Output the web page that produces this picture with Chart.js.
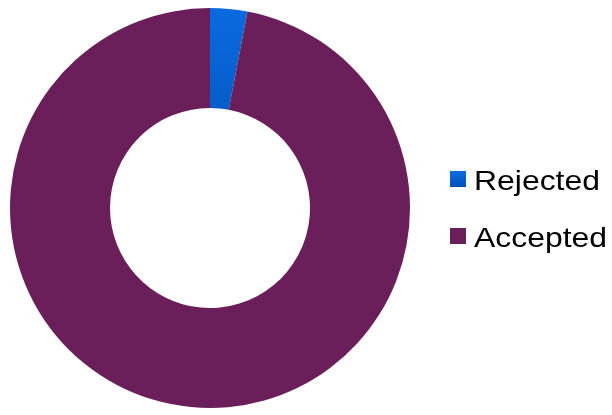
<!DOCTYPE html>
<html>
<head>
<meta charset="utf-8">
<script src="https://cdn.jsdelivr.net/npm/chart.js@4/dist/chart.umd.min.js"></script>
<style>
  html, body { margin: 0; padding: 0; background: #ffffff; }
  #wrap { width: 612px; height: 415px; }
</style>
</head>
<body>
<div id="wrap"><canvas id="chart"></canvas></div>
<script>
// Data
const labels = ['Rejected', 'Accepted'];
const values = [3, 97];
const colors = ['#0a5fd0', '#6a1e5a'];

// Blue slice has a soft vertical gradient
function sliceColor(context) {
    const chart = context.chart;
    const area = chart.chartArea;
    if (!area || context.dataIndex !== 0) return colors[context.dataIndex];
    const g = chart.ctx.createLinearGradient(0, area.top, 0, area.top + area.height / 2);
    g.addColorStop(0, '#0b6ae0');
    g.addColorStop(1, '#0050b4');
    return g;
}

// Legend on the right, drawn by hand so the spacing matches
const sideLegend = {
    id: 'sideLegend',
    afterDraw(chart) {
        const c = chart.ctx;
        const x0 = chart.chartArea.right + 40;
        const rows = [180, 237];
        c.save();
        c.font = '28px "Liberation Sans", Arial, sans-serif';
        c.textBaseline = 'middle';
        c.fillStyle = '#000000';
        labels.forEach((l, i) => {
            const y = rows[i];
            if (i === 0) {
                const g = c.createLinearGradient(0, y - 8, 0, y + 8);
                g.addColorStop(0, '#0b6ae0');
                g.addColorStop(1, '#0050b4');
                c.fillStyle = g;
            } else {
                c.fillStyle = colors[i];
            }
            c.fillRect(x0, y - 9, 16, 16);
            c.fillStyle = '#000000';
            c.save();
            c.translate(x0 + 24, y + 2);
            c.scale(1.14, 1);
            c.fillText(l, 0, 0);
            c.restore();
        });
        c.restore();
    }
};

const ctx = document.getElementById('chart').getContext('2d');
const chart = new Chart(ctx, {
    type: 'doughnut',
    data: {
        labels: labels,
        datasets: [{
            data: values,
            backgroundColor: sliceColor,
            borderWidth: 0
        }]
    },
    options: {
        responsive: true,
        maintainAspectRatio: false,
        animation: false,
        cutout: '50%',
        layout: { padding: { top: 8, bottom: 7, left: 10, right: 202 } },
        plugins: {
            tooltip: { enabled: false },
            legend: { display: false }
        }
    },
    plugins: [sideLegend]
});
</script>
</body>
</html>
